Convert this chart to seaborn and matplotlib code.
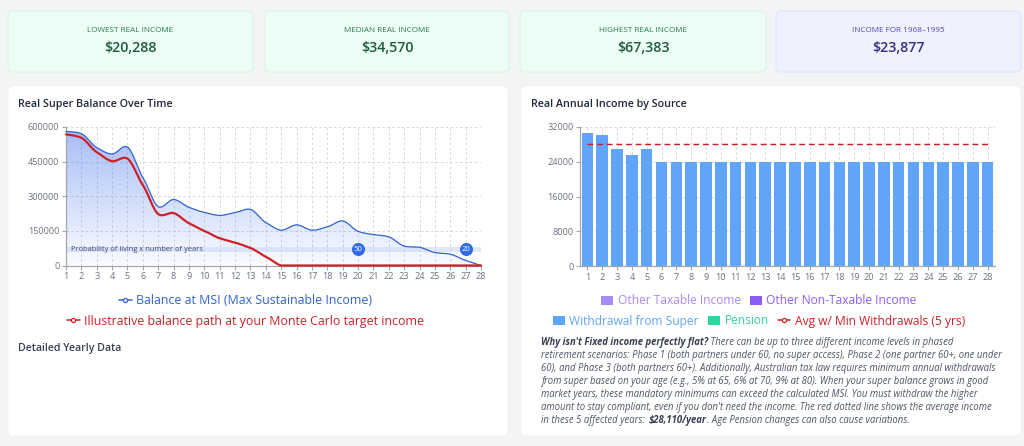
import numpy as np
import matplotlib
matplotlib.use("Agg")
import matplotlib.pyplot as plt
import seaborn as sns
from matplotlib.patches import FancyBboxPatch
from matplotlib.lines import Line2D
from matplotlib.patches import Patch

sns.set_style("white")
plt.rcParams['font.family'] = ['Open Sans', 'DejaVu Sans']

years = list(range(1, 29))
balance_msi = [581000, 571000, 511000, 483000, 513000, 381000, 255000, 286000, 252000, 230000,
               217000, 229000, 243000, 186000, 153000, 176000, 153000, 167000, 193000, 148000,
               134000, 124000, 84000, 79000, 56000, 49000, 22000, 0]
balance_target = [568000, 553000, 491000, 452000, 463000, 348000, 223000, 227000, 183000, 150000,
                  118000, 99000, 76000, 38000, 0, 0, 0, 0, 0, 0, 0, 0, 0, 0, 0, 0, 0, 0]
withdrawal = [30630, 30170, 26960, 25660, 27040] + [23877] * 23
avg_min = [28110] * 28
prob_years = [20, 27]
prob_labels = ["50", "20"]
y_ticks_left = [0, 150000, 300000, 450000, 600000]
y_ticks_right = [0, 8000, 16000, 24000, 32000]
cards = [("LOWEST REAL INCOME", "$20,288"), ("MEDIAN REAL INCOME", "$34,570"),
         ("HIGHEST REAL INCOME", "$67,383"), ("INCOME FOR 1968–1995", "$23,877")]
note_lines = [
    [("Why isn't Fixed income perfectly flat?", True), (" There can be up to three different income levels in phased", False)],
    [("retirement scenarios: Phase 1 (both partners under 60, no super access), Phase 2 (one partner 60+, one under", False)],
    [("60), and Phase 3 (both partners 60+). Additionally, Australian tax law requires minimum annual withdrawals", False)],
    [("from super based on your age (e.g., 5% at 65, 6% at 70, 9% at 80). When your super balance grows in good", False)],
    [("market years, these mandatory minimums can exceed the calculated MSI. You must withdraw the higher", False)],
    [("amount to stay compliant, even if you don't need the income. The red dotted line shows the average income", False)],
    [("in these 5 affected years: ", False), ("$28,110/year", True), (". Age Pension changes can also cause variations.", False)],
]

W, H = 1024, 446
fig = plt.figure(figsize=(W / 100, H / 100), dpi=100, facecolor="#f3f4f6")
bg = fig.add_axes([0, 0, 1, 1])
bg.set_xlim(0, W); bg.set_ylim(H, 0); bg.axis("off")

def box(x0, y0, x1, y1, fc, ec, r=5):
    bg.add_patch(FancyBboxPatch((x0 + r, y0 + r), x1 - x0 - 2 * r, y1 - y0 - 2 * r,
                                boxstyle=f"round,pad={r},rounding_size={r}", fc=fc, ec=ec, lw=0.6))

card_x = [(8, 253), (265, 509), (520, 766), (776, 1021)]
card_cols = [("#ecfdf5", "#d3f3e1", "#2f7a55", "#1f5a40")] * 3 + [("#eef2ff", "#d8defb", "#5548b0", "#352f7e")]
for (x0, x1), (lab, val), (fc, ec, c1, c2) in zip(card_x, cards, card_cols):
    box(x0, 11, x1, 72, fc, ec)
    bg.text((x0 + x1) / 2, 30, lab, ha="center", va="center", fontsize=5.9, color=c1)
    bg.text((x0 + x1) / 2, 48.5, val, ha="center", va="center", fontsize=10.3, color=c2, fontweight=600)

box(8, 86, 508, 436, "white", "#f0f1f3")
box(521, 86, 1021, 436, "white", "#f0f1f3")
bg.text(17.5, 104.5, "Real Super Balance Over Time", fontsize=7.75, fontweight=600, color="#1f2937", va="center")
bg.text(531, 104.5, "Real Annual Income by Source", fontsize=7.75, fontweight=600, color="#1f2937", va="center")
bg.text(17.5, 348, "Detailed Yearly Data", fontsize=7.6, fontweight=600, color="#374151", va="center")

def axes_px(x0, y0, x1, y1):
    return fig.add_axes([x0 / W, 1 - y1 / H, (x1 - x0) / W, (y1 - y0) / H], facecolor="none")

def smooth(xs, ys, n=16):
    """Hermite curve through the read values, clipped so it stays non-negative."""
    xs = np.asarray(xs, float); ys = np.asarray(ys, float)
    m = np.gradient(ys, xs) * 0.8
    out_x, out_y = [], []
    for i in range(len(xs) - 1):
        t = np.linspace(0, 1, n, endpoint=False)
        h = xs[i + 1] - xs[i]
        a = 2*t**3 - 3*t**2 + 1; b = t**3 - 2*t**2 + t; c = -2*t**3 + 3*t**2; d = t**3 - t**2
        out_x.append(xs[i] + t * h)
        out_y.append(a * ys[i] + b * h * m[i] + c * ys[i + 1] + d * h * m[i + 1])
    return np.r_[np.concatenate(out_x), xs[-1]], np.clip(np.r_[np.concatenate(out_y), ys[-1]], 0, None)

def style(ax, yt, xt):
    for s in ("top", "right"):
        ax.spines[s].set_visible(False)
    for s in ("left", "bottom"):
        ax.spines[s].set_color("#a3a7ad"); ax.spines[s].set_linewidth(0.9)
    ax.set_yticks(yt); ax.set_xticks(xt)
    ax.set_xticklabels(years)
    ax.tick_params(axis="both", labelsize=6.6, labelcolor="#6b7280", color="#a3a7ad",
                   length=3, width=0.8, pad=1.8, bottom=True, left=True)
    ax.grid(True, ls=(0, (2.5, 2.5)), color="#d5d7db", lw=0.7)
    ax.set_axisbelow(True)
    ax.set_xlabel(""); ax.set_ylabel("")

# ----- left chart
ax = axes_px(66, 127, 481, 265.5)
ax.set_xlim(1, 28); ax.set_ylim(0, 600000)
style(ax, y_ticks_left, years)
sx, sy = smooth(years, balance_msi)
tx, ty = smooth(years, balance_target)
grad = np.zeros((256, 2, 4))
grad[..., 0] = 0.23
grad[..., 1] = 0.43
grad[..., 2] = 0.92
grad[..., 3] = np.linspace(0.46, 0.03, 256)[:, None]
im = ax.imshow(grad, extent=[1, 28, 0, 600000], origin="upper", aspect="auto", zorder=1.5)
poly = ax.fill_between(sx, 0, sy, color="none")
im.set_clip_path(poly.get_paths()[0], transform=ax.transData)
ax.set_xlim(1, 28); ax.set_ylim(0, 600000)
ax.axhspan(59500, 80000, color="#c9d9f8", alpha=0.6, lw=0, zorder=2)
sns.lineplot(x=sx, y=sy, ax=ax, color="#2f62d0", lw=0.9, zorder=3, errorbar=None, sort=False, clip_on=False)
sns.lineplot(x=tx, y=ty, ax=ax, color="#cf2027", lw=1.6, zorder=4, errorbar=None, sort=False, clip_on=False)
ax.set_xlabel(""); ax.set_ylabel("")
ax.text(1.35, 69500, "Probability of living x number of years", fontsize=5.4, color="#3c4a6b", va="center", zorder=5)
ax.scatter(prob_years, [69500] * 2, s=88, color="#2f6ae4", zorder=6, lw=0)
for xv, lb in zip(prob_years, prob_labels):
    ax.text(xv, 69500, lb, color="white", fontsize=5.6, ha="center", va="center", zorder=7)

# ----- right chart
ax2 = axes_px(580, 127, 995, 266)
sns.barplot(x=np.arange(28), y=withdrawal, ax=ax2, color="#60a5fa", width=0.78, saturation=1, zorder=2, linewidth=0)
ax2.set_xlim(-0.5, 27.5); ax2.set_ylim(0, 32000)
style(ax2, y_ticks_right, np.arange(28))
for b in ax2.patches:
    b.set_zorder(2)
sns.lineplot(x=np.arange(28), y=avg_min, ax=ax2, color="#c81e2e", lw=1.05, ls=(0, (4, 2.6)), zorder=3, errorbar=None)
ax2.set_xlabel(""); ax2.set_ylabel("")

# ----- legends
def line_handle(c):
    return Line2D([], [], color=c, lw=1.1, marker="o", ms=3.0, mfc="white", mec=c, mew=0.9)

def legend(handles, labels, colors, cx, y, fs=8.9):
    return fig.legend(handles, labels, loc="center", bbox_to_anchor=(cx / W, 1 - y / H), ncol=len(handles),
                      frameon=False, fontsize=fs, labelcolor=colors, handlelength=1.0, handletextpad=0.35,
                      columnspacing=0.8, borderpad=0, borderaxespad=0)

legend([line_handle("#2f62d0")], ["Balance at MSI (Max Sustainable Income)"], ["#2f62d0"], 245.5, 301)
legend([line_handle("#cf2027")], ["Illustrative balance path at your Monte Carlo target income"], ["#cf2027"], 245.5, 321)
legend([Patch(fc="#a78bfa", lw=0), Patch(fc="#8b5cf6", lw=0)], ["Other Taxable Income", "Other Non-Taxable Income"],
       ["#a78bfa", "#8b5cf6"], 759, 301, 8.65)
legend([Patch(fc="#60a5fa", lw=0), Patch(fc="#34d399", lw=0), line_handle("#cf2027")],
       ["Withdrawal from Super", "Pension", "Avg w/ Min Withdrawals (5 yrs)"],
       ["#60a5fa", "#34d399", "#cf2027"], 759, 321, 8.65)

# ----- note paragraph
renderer = fig.canvas.get_renderer()
line_y = [342.3, 355.3, 368.3, 381.7, 394.7, 407.7, 420.7]
for yy, segs in zip(line_y, note_lines):
    xx = 541
    for s, bold in segs:
        t = bg.text(xx, yy, s, fontsize=6.85, style="italic", color="#374151" if bold else "#4b5563",
                    fontweight="bold" if bold else "normal", va="center")
        xx = bg.transData.inverted().transform(t.get_window_extent(renderer))[1, 0]
        if s.endswith(" "):
            xx += 1.5

fig.savefig("out.png", dpi=100, facecolor=fig.get_facecolor())
